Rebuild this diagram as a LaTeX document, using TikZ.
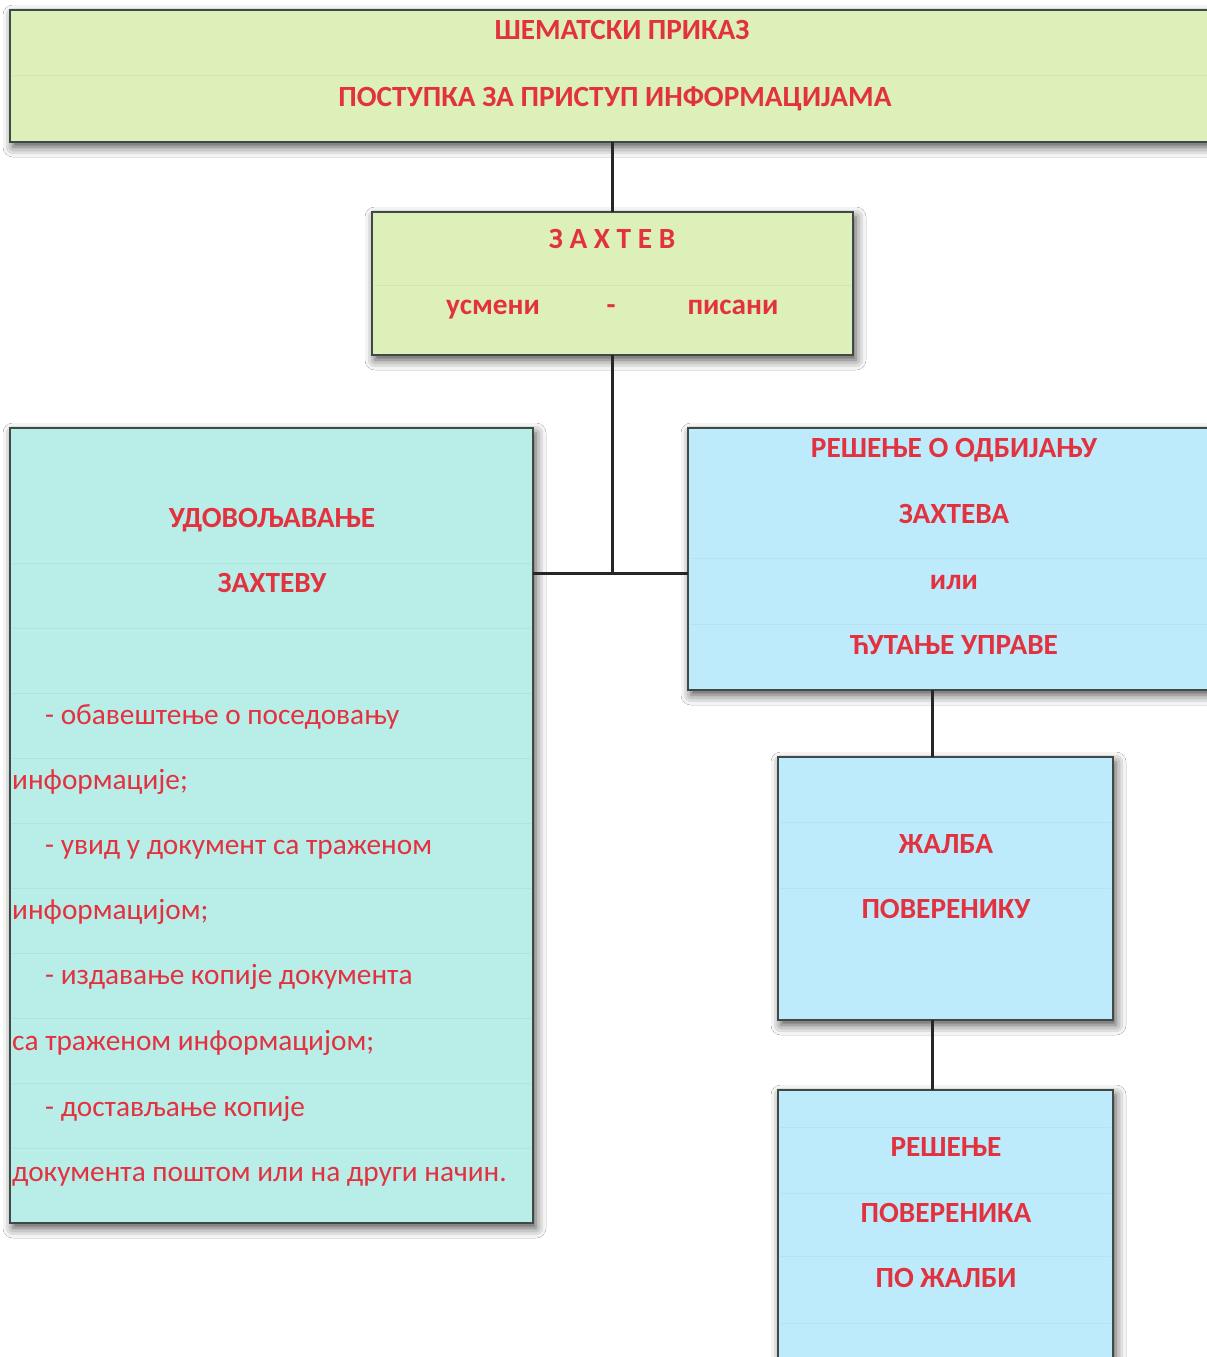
\documentclass[tikz,border=0pt]{standalone}
\usepackage{fontspec}
\setmainfont{Carlito}
\usetikzlibrary{shadows.blur}
\definecolor{tgreen}{HTML}{DDF0B9}
\definecolor{tturq}{HTML}{B9EDE7}
\definecolor{tblue}{HTML}{BEEBFB}
\definecolor{tred}{HTML}{E2323F}
\definecolor{tborder}{HTML}{3F4A45}
\begin{document}
\begin{tikzpicture}[x=1pt,y=-1pt,
 box/.style={draw=tborder, line width=2pt, rectangle, inner sep=0pt, outer sep=0pt, anchor=north west,
   blur shadow={shadow xshift=3pt, shadow yshift=-5pt, shadow blur radius=10pt, shadow opacity=70}},
 conn/.style={draw=black!85, line width=3pt},
 hd/.style={text=tred, font=\fontsize{29.3}{32}\selectfont\bfseries, inner sep=0pt, anchor=base},
 bd/.style={text=tred, font=\fontsize{29.3}{32}\selectfont, inner sep=0pt, anchor=base west},
 sepg/.style={draw=tgreen!88!black, line width=0.8pt, opacity=0.35},
 sept/.style={draw=tturq!88!black, line width=0.8pt, opacity=0.35},
 sepb/.style={draw=tblue!88!black, line width=0.8pt, opacity=0.35}
]
\useasboundingbox (0,0) rectangle (1207,1357);
\clip (0,0) rectangle (1207,1357);
\fill[white] (0,0) rectangle (1207,1357);

% boxes
\node[box, fill=tgreen, minimum width=1210pt, minimum height=132pt] (title) at (10,10) {};
\node[box, fill=tgreen, minimum width=481pt, minimum height=143pt] (zahtev) at (372,212) {};
\node[box, fill=tturq, minimum width=523pt, minimum height=795pt] (left) at (10,428) {};
\node[box, fill=tblue, minimum width=532pt, minimum height=262pt] (r1) at (688,428) {};
\node[box, fill=tblue, minimum width=335pt, minimum height=263pt] (zalba) at (778,757) {};
\node[box, fill=tblue, minimum width=335pt, minimum height=300pt] (resenje) at (778,1090) {};

% faint row lines
\draw[sepg] (12,75) -- (1207,75);
\draw[sepg] (374,285) -- (851,285);
\foreach \y in {563,628,693,758,823,888,953,1018,1083,1148}
  \draw[sept] (12,\y) -- (531,\y);
\foreach \y in {558,624}
  \draw[sepb] (690,\y) -- (1207,\y);
\foreach \y in {822,888}
  \draw[sepb] (780,\y) -- (1111,\y);
\foreach \y in {1127,1193,1256,1323}
  \draw[sepb] (780,\y) -- (1111,\y);

% connectors
\coordinate (j) at (612,573);
\draw[conn] (zahtev.north -| j) -- (j |- title.south);
\draw[conn] (zahtev.south -| j) -- (j);
\draw[conn] (left.east |- j) -- (r1.west |- j);
\coordinate (k) at (932,0);
\draw[conn] (k |- r1.south) -- (k |- zalba.north);
\draw[conn] (k |- zalba.south) -- (k |- resenje.north);

% texts
\node[hd] (t1) at (622,39) {ШЕМАТСКИ ПРИКАЗ};
\node[hd] (t2) at (615,106) {ПОСТУПКА ЗА ПРИСТУП ИНФОРМАЦИЈАМА};
\node[hd] (z1) at (612,248) {З А Х Т Е В};
\node[hd] (z2) at (493,314) {усмени};
\node[hd] (z3) at (611,314) {-};
\node[hd] (z4) at (733,314) {писани};
\node[hd] (l1) at (272,527) {УДОВОЉАВАЊЕ};
\node[hd] (l2) at (272,592) {ЗАХТЕВУ};
\node[bd] (b1) at (45,724) {- обавештење о поседовању};
\node[bd] (b2) at (12,789) {информације;};
\node[bd] (b3) at (45,854) {- увид у документ са траженом};
\node[bd] (b4) at (12,919) {информацијом;};
\node[bd] (b5) at (45,984) {- издавање копије документа};
\node[bd] (b6) at (12,1050) {са траженом информацијом;};
\node[bd] (b7) at (45,1116) {- достављање копије};
\node[bd] (b8) at (12,1181) {документа поштом или на други начин.};
\node[hd] (r11) at (954,457) {РЕШЕЊЕ О ОДБИЈАЊУ};
\node[hd] (r12) at (954,523) {ЗАХТЕВА};
\node[hd] (r13) at (954,589) {или};
\node[hd] (r14) at (954,654) {ЋУТАЊЕ УПРАВЕ};
\node[hd] (zl1) at (946,853) {ЖАЛБА};
\node[hd] (zl2) at (946,918) {ПОВЕРЕНИКУ};
\node[hd] (rs1) at (946,1156) {РЕШЕЊЕ};
\node[hd] (rs2) at (946,1222) {ПОВЕРЕНИКА};
\node[hd] (rs3) at (946,1287) {ПО ЖАЛБИ};
\end{tikzpicture}
\end{document}
